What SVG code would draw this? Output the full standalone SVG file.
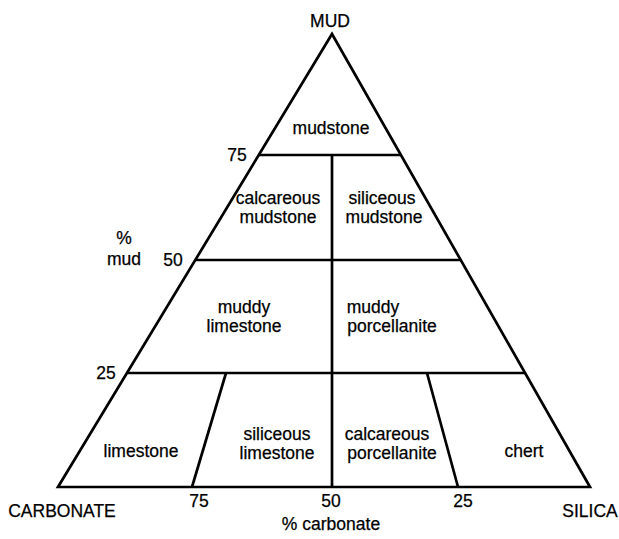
<svg xmlns="http://www.w3.org/2000/svg" width="619" height="539" viewBox="0 0 619 539">
<style>
text{font-family:"Liberation Sans",Arial,sans-serif;font-size:17.5px;fill:#000;stroke:#000;stroke-width:0.25;text-anchor:middle}
.ln{stroke:#000;stroke-width:2.7;fill:none}
</style>
<rect width="619" height="539" fill="#fff"/>
<g id="connectors">
<path class="ln" d="M332,34 L590,487 L58,487 Z" stroke-width="3"/>
<line class="ln" x1="259" y1="155" x2="401" y2="155"/>
<line class="ln" x1="195" y1="260" x2="461" y2="260"/>
<line class="ln" x1="127" y1="373" x2="525" y2="373"/>
<line class="ln" x1="332" y1="155" x2="332" y2="487"/>
<line class="ln" x1="226" y1="373" x2="192" y2="487"/>
<line class="ln" x1="427" y1="373" x2="458" y2="487"/>
</g>
<g id="vertex-mud"><text x="330" y="27">MUD</text></g>
<g id="vertex-carbonate"><text x="62" y="517">CARBONATE</text></g>
<g id="vertex-silica"><text x="590" y="517">SILICA</text></g>
<g id="mudstone"><text x="331" y="134">mudstone</text></g>
<g id="calcareous-mudstone"><text x="278" y="204">calcareous</text><text x="278" y="223">mudstone</text></g>
<g id="siliceous-mudstone"><text x="382" y="204">siliceous</text><text x="384" y="223">mudstone</text></g>
<g id="muddy-limestone"><text x="244" y="313">muddy</text><text x="244" y="332">limestone</text></g>
<g id="muddy-porcellanite"><text x="373" y="313">muddy</text><text x="392" y="332">porcellanite</text></g>
<g id="limestone"><text x="141" y="457">limestone</text></g>
<g id="siliceous-limestone"><text x="277" y="440">siliceous</text><text x="277" y="459">limestone</text></g>
<g id="calcareous-porcellanite"><text x="387" y="440">calcareous</text><text x="392" y="459">porcellanite</text></g>
<g id="chert"><text x="524" y="457">chert</text></g>
<g id="axis-mud"><text x="124" y="244">%</text><text x="124" y="265">mud</text><text x="237" y="161">75</text><text x="173" y="266">50</text><text x="106" y="379">25</text></g>
<g id="axis-carbonate"><text x="199" y="507">75</text><text x="331" y="507">50</text><text x="463" y="507">25</text><text x="331" y="530">% carbonate</text></g>
</svg>
